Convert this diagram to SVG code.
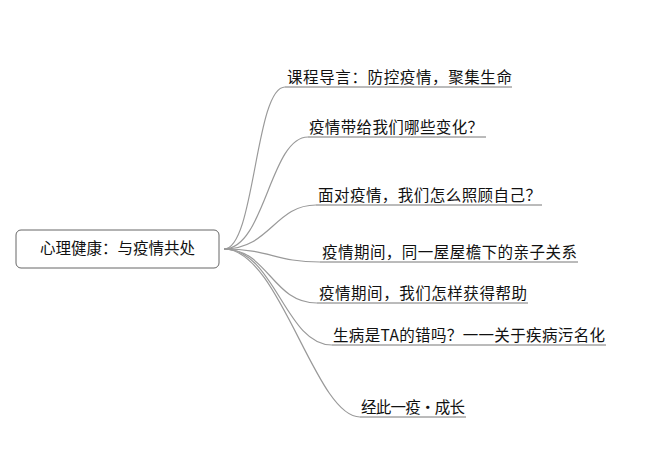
<svg xmlns="http://www.w3.org/2000/svg" width="668" height="467" viewBox="0 0 668 467">
<style>
text{font-family:"Noto Sans CJK SC","Noto Sans",sans-serif;font-size:15.5px;fill:#111}
.c{fill:none;stroke:#999;stroke-width:1.2}
.u{fill:none;stroke:#777;stroke-width:1}
</style>
<rect width="668" height="467" fill="#fff"/>
<g id="connectors">
<path class="c" d="M224 249 C255 249 255 87 285 87"/>
<path class="c" d="M224 249 C265 249 270 137 308 137"/>
<path class="c" d="M224 249 C270 249 275 205 316 205"/>
<path class="c" d="M224 249 C270 249 275 262 320 262"/>
<path class="c" d="M224 249 C268 249 272 303 317 303"/>
<path class="c" d="M224 249 C275 249 285 345 332 345"/>
<path class="c" d="M224 249 C280 249 315 417 360 417"/>
</g>
<g id="root"><rect x="16" y="230" width="203" height="38" rx="5" fill="#fff" stroke="#666"/><text x="117.5" y="254" text-anchor="middle">心理健康：与疫情共处</text></g>
<g id="n1"><path class="u" d="M285 87H512"/><text x="287" y="83" textLength="225">课程导言：防控疫情，聚集生命</text></g>
<g id="n2"><path class="u" d="M308 137H486"/><text x="309" y="133" textLength="174">疫情带给我们哪些变化？</text></g>
<g id="n3"><path class="u" d="M316 205H542"/><text x="318" y="201" textLength="223">面对疫情，我们怎么照顾自己？</text></g>
<g id="n4"><path class="u" d="M320 262H578"/><text x="322" y="258" textLength="255">疫情期间，同一屋屋檐下的亲子关系</text></g>
<g id="n5"><path class="u" d="M317 303H528"/><text x="319" y="299" textLength="208">疫情期间，我们怎样获得帮助</text></g>
<g id="n6"><path class="u" d="M332 345H606"/><text x="333" y="341" textLength="272">生病是TA的错吗？一一关于疾病污名化</text></g>
<g id="n7"><path class="u" d="M360 417H466"/><text x="361" y="413" textLength="104">经此一疫•成长</text></g>
</svg>
